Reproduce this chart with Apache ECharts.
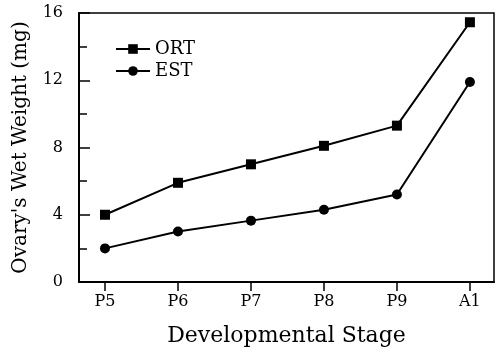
<!DOCTYPE html>
<html><head><meta charset="utf-8">
<script src="https://cdn.jsdelivr.net/npm/echarts@6/dist/echarts.min.js"></script>
<style>html,body{margin:0;padding:0;background:#fff}#c{width:499px;height:352px}</style>
</head><body><div id="c"></div>
<script>
const categories = ['P5','P6','P7','P8','P9','A1'];
const ortValues = [4.0, 5.9, 7.0, 8.1, 9.3, 15.45];
const estValues = [2.0, 3.0, 3.65, 4.3, 5.2, 11.9];
const yTicks = [0, 4, 8, 12, 16];
const FONT = '"DejaVu Serif", "Liberation Serif", serif';
const idx = categories.map((c, i) => i);
const chart = echarts.init(document.getElementById('c'), null, {renderer: 'canvas'});
chart.setOption({
  animation: false,
  backgroundColor: '#fff',
  grid: {left: 79, right: 5, top: 13, bottom: 68, show: true, borderColor: '#000', borderWidth: 1.5, backgroundColor: 'transparent'},
  legend: {
    left: 110, top: 35, orient: 'vertical', itemWidth: 34, itemHeight: 12, itemGap: 4,
    textStyle: {fontFamily: FONT, fontSize: 18, color: '#000'},
    data: ['ORT', 'EST']
  },
  xAxis: {
    type: 'value', min: -0.356, max: 5.33,
    name: 'Developmental Stage', nameLocation: 'middle', nameGap: 43,
    nameTextStyle: {fontFamily: FONT, fontSize: 22, color: '#000'},
    axisLine: {onZero: false, lineStyle: {color: '#000', width: 2}},
    axisTick: {show: true, inside: false, length: 9, customValues: idx, lineStyle: {color: '#000', width: 1.5}},
    axisLabel: {customValues: idx, margin: 12, fontFamily: FONT, fontSize: 16, color: '#000',
      formatter: v => categories[Math.round(v)]},
    splitLine: {show: false}
  },
  yAxis: {
    type: 'value', min: 0, max: 16, interval: 4,
    name: "Ovary's Wet Weight (mg)", nameLocation: 'middle', nameGap: 48,
    nameTextStyle: {fontFamily: FONT, fontSize: 20, color: '#000'},
    axisLine: {onZero: false, lineStyle: {color: '#000', width: 2}},
    axisTick: {inside: true, length: 11, lineStyle: {color: '#000', width: 1.5}},
    minorTick: {show: true, splitNumber: 2, length: 8, lineStyle: {color: '#000', width: 1.5}},
    axisLabel: {margin: 16, fontFamily: FONT, fontSize: 16, color: '#000',
      customValues: yTicks},
    splitLine: {show: false}
  },
  series: [
    {name: 'ORT', type: 'line', data: ortValues.map((v, i) => [i, v]),
      symbol: 'rect', symbolSize: 10, itemStyle: {color: '#000'},
      lineStyle: {color: '#000', width: 2}},
    {name: 'EST', type: 'line', data: estValues.map((v, i) => [i, v]),
      symbol: 'circle', symbolSize: 10, itemStyle: {color: '#000'},
      lineStyle: {color: '#000', width: 2}}
  ]
});
</script></body></html>
